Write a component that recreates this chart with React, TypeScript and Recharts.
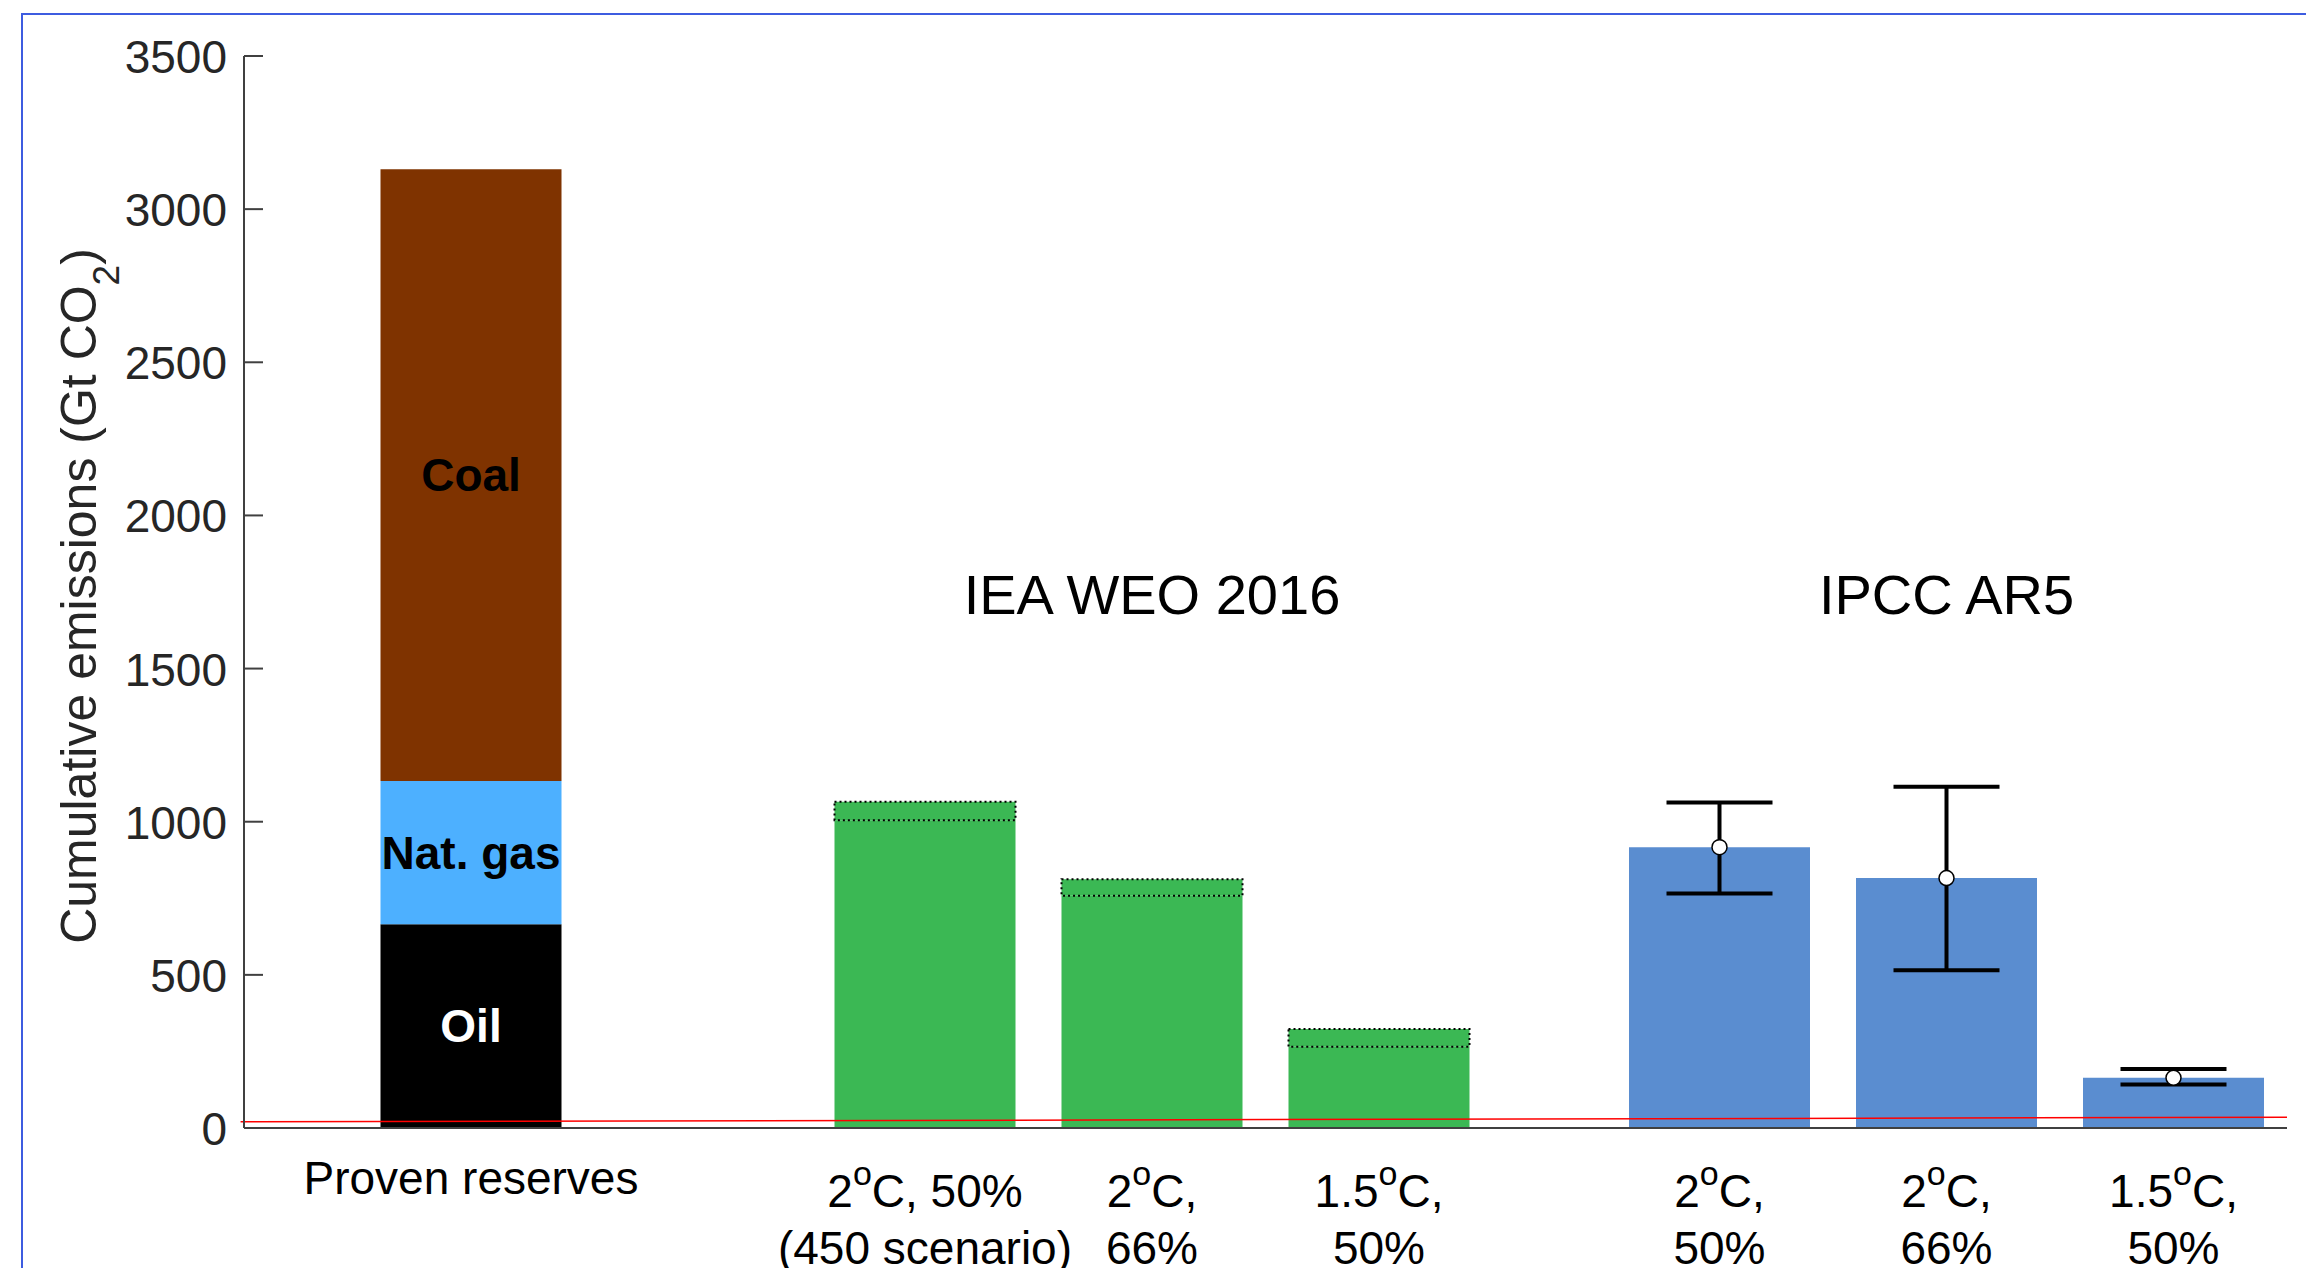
import React from 'react';
import {
  ComposedChart,
  Bar,
  XAxis,
  YAxis,
  ErrorBar,
  Scatter,
  ReferenceLine,
  ReferenceDot,
  LabelList,
} from 'recharts';

const FONT = '"Liberation Sans", Arial, Helvetica, sans-serif';

// ---- categories (positions on the numeric x axis) ----
const categoryX = [0, 2, 3, 4, 5.5, 6.5, 7.5];
const categoryLabels: string[][] = [
  ['Proven reserves'],
  ['2^oC, 50%', '(450 scenario)'],
  ['2^oC,', '66%'],
  ['1.5^oC,', '50%'],
  ['2^oC,', '50%'],
  ['2^oC,', '66%'],
  ['1.5^oC,', '50%'],
];

// ---- proven reserves (stacked) ----
const reserveOil = 665;
const reserveGas = 468;
const reserveCoal = 1997;
const reserveNames = ['Oil', 'Nat. gas', 'Coal'];

// ---- IEA WEO 2016 (range lower / upper) ----
const ieaLower = [1005, 758, 265];
const ieaUpper = [1065, 812, 323];

// ---- IPCC AR5 (central, low, high) ----
const ipccCentral = [917, 816, 164];
const ipccLow = [766, 515, 142];
const ipccHigh = [1063, 1114, 193];

// ---- axis ticks ----
const yTicks = [0, 500, 1000, 1500, 2000, 2500, 3000, 3500];

// ---- group labels ----
const groupLabels = ['IEA WEO 2016', 'IPCC AR5'];
const groupLabelX = [3, 6.5];
const groupLabelY = 1678;

// ---- red reference line ----
const redLine = [
  { x: -1.015, y: 20 },
  { x: 8, y: 35 },
];

// build rows
const rows: any[] = categoryX.map((x) => ({ x }));
rows[0] = {
  ...rows[0],
  oil: reserveOil,
  gas: reserveGas,
  coal: reserveCoal,
  oilLabel: reserveNames[0],
  gasLabel: reserveNames[1],
  coalLabel: reserveNames[2],
};
ieaLower.forEach((lo, i) => {
  rows[1 + i] = { ...rows[1 + i], greenBase: lo, greenTop: ieaUpper[i] - lo };
});
ipccCentral.forEach((c, i) => {
  rows[4 + i] = {
    ...rows[4 + i],
    blue: c,
    err: [c - ipccLow[i], ipccHigh[i] - c],
  };
});
const ipccPoints = ipccCentral.map((c, i) => ({ x: categoryX[4 + i], y: c }));

const renderSup = (line: string) => {
  const parts = line.split('^o');
  if (parts.length === 1) return line;
  return (
    <>
      <tspan>{parts[0]}</tspan>
      <tspan fontSize={34} dy={-22}>
        o
      </tspan>
      <tspan fontSize={46} dy={22}>
        {parts[1]}
      </tspan>
    </>
  );
};

const XTick = (props: any) => {
  const { x, y, payload } = props;
  const idx = categoryX.indexOf(payload.value);
  const lines = categoryLabels[idx] || [];
  const baselines = lines.length === 1 ? [66] : [79, 136];
  return (
    <g>
      {lines.map((ln, k) => (
        <text
          key={k}
          x={x}
          y={y + baselines[k]}
          textAnchor="middle"
          fontSize={46}
          fontFamily={FONT}
          fill="#000"
        >
          {renderSup(ln)}
        </text>
      ))}
    </g>
  );
};

const YTick = (props: any) => {
  const { x, y, payload } = props;
  return (
    <text
      x={x}
      y={y + 17}
      textAnchor="end"
      fontSize={46}
      fontFamily={FONT}
      fill="#262626"
    >
      {payload.value}
    </text>
  );
};

const makeGroupLabel = (text: string) => (p: any) => {
  const vb = p.viewBox || {};
  const cx = (vb.x || 0) + (vb.width || 0) / 2;
  const cy = (vb.y || 0) + (vb.height || 0) / 2;
  return (
    <text x={cx} y={cy} textAnchor="middle" fontSize={56} fontFamily={FONT} fill="#000">
      {text}
    </text>
  );
};

const YLabel = () => (
  <text
    x={96}
    y={596}
    transform="rotate(-90 96 596)"
    textAnchor="middle"
    fontSize={50}
    fontFamily={FONT}
    fill="#262626"
  >
    Cumulative emissions (Gt CO
    <tspan fontSize={37} dy={23}>
      2
    </tspan>
    <tspan dy={-23}>)</tspan>
  </text>
);

const barLabelStyle = { fontSize: 46, fontWeight: 700, fontFamily: FONT };

export default function App() {
  return (
    <div
      style={{
        position: 'absolute',
        left: 0,
        top: 0,
        width: 2306,
        height: 1268,
        overflow: 'hidden',
        background: '#fff',
      }}
    >
      <div
        style={{
          position: 'absolute',
          left: 21,
          top: 13,
          width: 2400,
          height: 1400,
          borderTop: '2px solid #3D5CE0',
          borderLeft: '2px solid #3D5CE0',
        }}
      />
      <div style={{ position: 'absolute', left: 0, top: 0 }}>
        <ComposedChart
          width={2306}
          height={1268}
          data={rows}
          margin={{ top: 56, right: 19, bottom: 0, left: 0 }}
        >
          <XAxis
            type="number"
            dataKey="x"
            domain={[-1, 8]}
            ticks={categoryX}
            interval={0}
            allowDataOverflow
            height={140}
            tickLine={false}
            tickSize={0}
            tickMargin={0}
            axisLine={{ stroke: '#404040', strokeWidth: 2 }}
            tick={<XTick />}
          />
          <YAxis
            type="number"
            domain={[0, 3500]}
            ticks={yTicks}
            interval={0}
            width={244}
            tickSize={-19}
            tickMargin={36}
            tickLine={{ stroke: '#404040', strokeWidth: 2 }}
            axisLine={{ stroke: '#404040', strokeWidth: 2 }}
            tick={<YTick />}
            label={<YLabel />}
          />
          <Bar dataKey="oil" stackId="s" barSize={181} fill="#000000" isAnimationActive={false}>
            <LabelList dataKey="oilLabel" position="center" fill="#ffffff" style={barLabelStyle} />
          </Bar>
          <Bar dataKey="gas" stackId="s" barSize={181} fill="#4DB0FF" isAnimationActive={false}>
            <LabelList dataKey="gasLabel" position="center" fill="#000000" style={barLabelStyle} />
          </Bar>
          <Bar dataKey="coal" stackId="s" barSize={181} fill="#7F3300" isAnimationActive={false}>
            <LabelList dataKey="coalLabel" position="center" fill="#000000" style={barLabelStyle} />
          </Bar>
          <Bar dataKey="greenBase" stackId="s" barSize={181} fill="#3BB854" isAnimationActive={false} />
          <Bar
            dataKey="greenTop"
            stackId="s"
            barSize={181}
            fill="#3BB854"
            stroke="#000"
            strokeWidth={2}
            strokeDasharray="2 3"
            isAnimationActive={false}
          />
          <Bar dataKey="blue" stackId="s" barSize={181} fill="#5A8DD0" isAnimationActive={false}>
            <ErrorBar dataKey="err" width={53} strokeWidth={4} stroke="#000" direction="y" />
          </Bar>
          <Scatter
            data={ipccPoints}
            dataKey="y"
            isAnimationActive={false}
            shape={(p: any) => (
              <circle cx={p.cx} cy={p.cy} r={7.5} fill="#fff" stroke="#000" strokeWidth={1.5} />
            )}
          />
          <ReferenceLine
            segment={redLine}
            stroke="#FF0000"
            strokeWidth={1.5}
            ifOverflow="visible"
          />
          {groupLabels.map((g, i) => (
            <ReferenceDot
              key={g}
              x={groupLabelX[i]}
              y={groupLabelY}
              r={1}
              fill="none"
              stroke="none"
              ifOverflow="visible"
              label={makeGroupLabel(g)}
            />
          ))}
        </ComposedChart>
      </div>
    </div>
  );
}
